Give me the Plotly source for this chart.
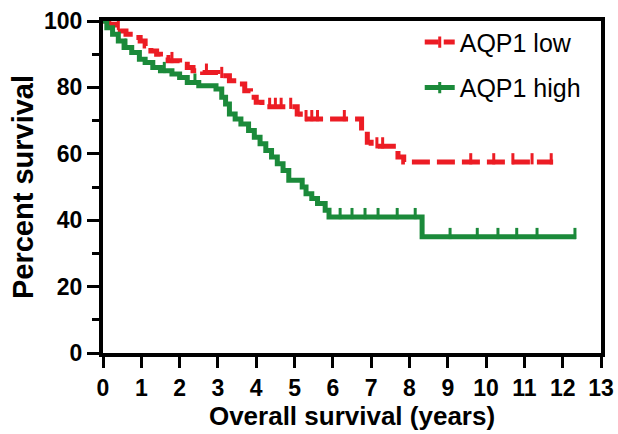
import plotly.graph_objects as go
import numpy as np

# ---- data ----
low_time = [0, 0.15, 0.3, 0.45, 0.6, 0.8, 0.97, 1.1, 1.25, 1.4, 1.5, 1.7, 2.0, 2.2, 2.35, 2.6,
            3.0, 3.3, 3.5, 3.7, 3.85, 4.0, 4.15, 5.07, 5.15, 6.75, 6.9, 7.0, 7.7, 7.85, 11.75]
low_surv = [100, 99, 98, 97, 96, 95, 94, 92.5, 91, 90, 89, 88, 87, 86, 85, 84.5,
            83.5, 82, 81, 79, 77, 75.5, 74.2, 72, 70.5, 67, 63.5, 62.3, 59, 57.5, 57.5]
low_censor = [0.4, 1.8, 2.7, 3.1, 4.35, 4.5, 4.65, 4.9, 5.3, 5.45, 5.6, 6.3, 7.15, 7.3,
              9.6, 10.2, 10.7, 11.2, 11.7]

high_time = [0, 0.1, 0.25, 0.4, 0.55, 0.75, 0.95, 1.1, 1.3, 1.5, 1.8, 2.0, 2.2, 2.5, 2.95,
             3.1, 3.2, 3.3, 3.45, 3.6, 3.8, 3.95, 4.1, 4.25, 4.4, 4.55, 4.7, 4.85, 5.2,
             5.3, 5.45, 5.6, 5.8, 5.9, 8.33, 12.35]
high_surv = [100, 98, 96, 94, 92, 90.5, 88.5, 87.5, 86, 85, 84, 83, 81.5, 80.5, 79.5,
             77, 75, 72, 70.5, 69, 67, 65, 63, 61, 59, 57, 55, 52, 50,
             48, 46.5, 45, 43, 41, 35, 35]
high_censor = [0.6, 1.6, 2.4, 6.19, 6.5, 6.84, 7.18, 7.68, 8.15, 9.06, 9.77, 10.31, 10.8, 11.33, 12.32]

x_ticks = list(range(0, 14))
y_ticks = [0, 20, 40, 60, 80, 100]

RED = "#EC1C24"
GREEN = "#1B8A3A"


def step_at(times, surv, t):
    idx = np.searchsorted(np.array(times), t, side="right") - 1
    return surv[max(idx, 0)]


fig = go.Figure()

fig.add_trace(go.Scatter(
    x=low_time, y=low_surv, mode="lines", line_shape="hv",
    line=dict(color=RED, width=5, dash="18px,7px"),
    name="AQP1 low", legendgroup="low", showlegend=False,
))
fig.add_trace(go.Scatter(
    x=low_censor, y=[step_at(low_time, low_surv, t) + 1 for t in low_censor],
    mode="markers", marker=dict(symbol="line-ns", size=8, line=dict(color=RED, width=3)),
    name="AQP1 low", legendgroup="low", showlegend=False,
))
fig.add_trace(go.Scatter(
    x=high_time, y=high_surv, mode="lines", line_shape="hv",
    line=dict(color=GREEN, width=5),
    name="AQP1 high", legendgroup="high", showlegend=False,
))
fig.add_trace(go.Scatter(
    x=high_censor, y=[step_at(high_time, high_surv, t) + 1 for t in high_censor],
    mode="markers", marker=dict(symbol="line-ns", size=8, line=dict(color=GREEN, width=3)),
    name="AQP1 high", legendgroup="high", showlegend=False,
))
# legend entries
fig.add_trace(go.Scatter(
    x=[None], y=[None], mode="lines+markers",
    line=dict(color=RED, width=5, dash="14px,5px"),
    marker=dict(symbol="line-ns", size=8, line=dict(color=RED, width=3)),
    name="AQP1 low", legendgroup="low",
))
fig.add_trace(go.Scatter(
    x=[None], y=[None], mode="lines+markers",
    line=dict(color=GREEN, width=5),
    marker=dict(symbol="line-ns", size=8, line=dict(color=GREEN, width=3)),
    name="AQP1 high", legendgroup="high",
))

axis_common = dict(
    showline=True, linewidth=4, linecolor="black", mirror=True,
    showgrid=False, zeroline=False, ticks="outside", tickwidth=3,
    tickcolor="black",
    tickfont=dict(family="Liberation Sans, Arial, sans-serif", size=23, color="black", weight="bold"),
)

fig.update_layout(
    width=618, height=434,
    margin=dict(l=103, r=17, t=21, b=81),
    paper_bgcolor="white", plot_bgcolor="white",
    font=dict(family="Liberation Sans, Arial, sans-serif", color="black"),
    xaxis=dict(
        range=[0, 13], tickvals=x_ticks, ticklen=11, **axis_common,
        title=dict(text="<b>Overall survival (years)</b>", font=dict(size=26), standoff=6),
    ),
    yaxis=dict(
        range=[0, 100], tickvals=y_ticks, ticklen=12, **axis_common,
        minor=dict(dtick=10, ticks="outside", ticklen=7, tickwidth=3, tickcolor="black"),
        title=dict(text="<b>Percent survival</b>", font=dict(size=29), standoff=3),
    ),
    legend=dict(
        x=0.636, y=1.005, xanchor="left", yanchor="top",
        font=dict(size=25, color="black"), bgcolor="rgba(0,0,0,0)",
        tracegroupgap=10, traceorder="grouped",
    ),
)
fig.update_xaxes(automargin=False)
fig.update_yaxes(automargin=False)

# remove the default 8px page margin so the figure fills the window exactly
fig.write_html(
    "out.html",
    config={"displayModeBar": False},
    post_script="document.body.style.margin='0';document.body.style.overflow='hidden';",
)
